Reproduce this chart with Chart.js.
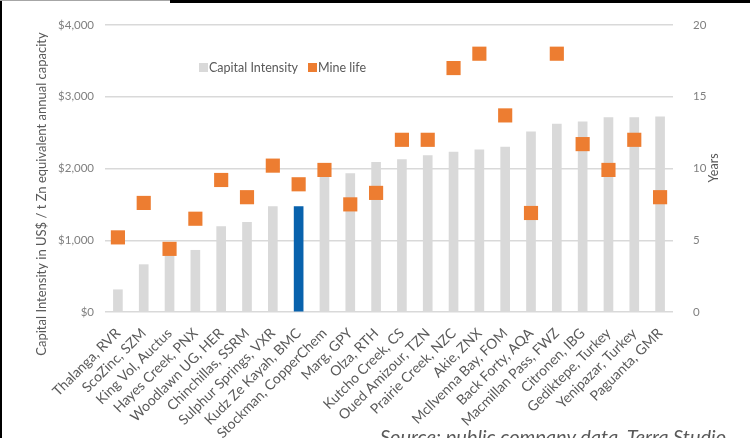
<!DOCTYPE html>
<html><head><meta charset="utf-8">
<script src="https://cdn.jsdelivr.net/npm/chart.js@4/dist/chart.umd.min.js"></script>
<style>
html,body{margin:0;padding:0;background:#fff;overflow:hidden}
#wrap{position:relative;width:750px;height:438px;overflow:hidden;background:#fff}
#c{position:absolute;left:0;top:0}
.topgray{position:absolute;left:0;top:0;width:170px;height:1px;background:#a6a6a6}
.topblack{position:absolute;left:170px;top:0;width:580px;height:3px;background:#000}
.leftblack{position:absolute;left:0;top:1px;width:2px;height:437px;background:#000}
#src{position:absolute;left:380px;top:424px;font:italic 20px Lato, sans-serif;color:#595959;white-space:nowrap}
</style></head>
<body>
<div id="wrap">
<canvas id="c" width="750" height="438"></canvas>
<div class="topgray"></div><div class="topblack"></div><div class="leftblack"></div>
<div id="src">Source: public company data, Terra Studio</div>
</div>
<script>
const categories = ["Thalanga, RVR","ScoZinc, SZM","King Vol, Auctus","Hayes Creek, PNX","Woodlawn UG, HER","Chinchillas, SSRM","Sulphur Springs, VXR","Kudz Ze Kayah, BMC","Stockman, CopperChem","Marg, GPY","Olza, RTH","Kutcho Creek, CS","Oued Amizour, TZN","Prairie Creek, NZC","Akie, ZNX","McIlvenna Bay, FOM","Back Forty, AQA","Macmillan Pass, FWZ","Citronen, IBG","Gediktepe, Turkey","Yenipazar, Turkey","Paguanta, GMR"];
const capitalIntensity = [310,660,800,860,1190,1250,1470,1470,1900,1930,2085,2125,2180,2230,2260,2300,2510,2620,2650,2710,2710,2720];
const mineLife = [5.2,7.6,4.4,6.5,9.2,8.0,10.2,8.9,9.9,7.5,8.3,12.0,12.0,17.0,18.0,13.7,6.9,18.0,11.7,9.9,12.0,8.0];
const highlightIndex = 7;
const leftTicks = {min:0,max:4000,step:1000};
const rightTicks = {min:0,max:20,step:5};
const seriesNames = ["Capital Intensity","Mine life"];
const leftTitle = "Capital Intensity in US$ / t Zn equivalent annual capacity";
const rightTitle = "Years";

const GRAY = '#d9d9d9', BLUE = '#0862ad', ORANGE = '#ed7d31', TXT = '#595959';
Chart.defaults.font.family = 'Lato';

const decor = {
  id:'decor',
  afterDraw(chart){
    const ctx = chart.ctx;
    ctx.save();
    ctx.fillStyle = TXT;
    ctx.font = '13px Lato';
    ctx.textAlign = 'center'; ctx.textBaseline = 'middle';
    ctx.save(); ctx.translate(42,194); ctx.rotate(-Math.PI/2); ctx.fillText(leftTitle,0,0); ctx.restore();
    ctx.font = '12.5px Lato';
    ctx.save(); ctx.translate(714,168); ctx.rotate(-Math.PI/2); ctx.fillText(rightTitle,0,0); ctx.restore();
    // legend
    ctx.font = '12.5px Lato';
    ctx.textAlign = 'left';
    ctx.fillStyle = GRAY; ctx.fillRect(199,63,9,9);
    ctx.fillStyle = TXT; ctx.fillText(seriesNames[0],209,68);
    ctx.fillStyle = ORANGE; ctx.fillRect(308,63,9,9);
    ctx.fillStyle = TXT; ctx.fillText(seriesNames[1],318,68);
    ctx.restore();
  }
};

new Chart(document.getElementById('c'), {
  data:{
    labels:categories,
    datasets:[
      {type:'line', label:seriesNames[1], data:mineLife, yAxisID:'y1', showLine:false,
       pointStyle:'rect', pointRadius:10, pointHoverRadius:10, pointBackgroundColor:ORANGE, pointBorderWidth:0, order:0},
      {type:'bar', label:seriesNames[0], data:capitalIntensity, yAxisID:'y',
       backgroundColor:capitalIntensity.map((v,i)=>i===highlightIndex?BLUE:GRAY), barThickness:9, order:1}
    ]
  },
  options:{
    responsive:false, animation:false,
    layout:{padding:{top:25,left:0,right:0,bottom:0}},
    plugins:{legend:{display:false}, tooltip:{enabled:false}},
    scales:{
      x:{offset:true, grid:{display:false}, border:{display:false},
         ticks:{minRotation:45,maxRotation:45,autoSkip:false,color:TXT,font:{size:14},padding:5},
         afterFit(s){s.height=126;}},
      y:{position:'left', min:leftTicks.min, max:leftTicks.max,
         ticks:{stepSize:leftTicks.step, callback:v=>'$'+v.toLocaleString('en-US'), color:'#7f7f7f', font:{size:11.5}, padding:11},
         grid:{color:GRAY, lineWidth:1.5, drawTicks:false}, border:{display:false},
         afterFit(s){s.width=105;}},
      y1:{position:'right', min:rightTicks.min, max:rightTicks.max,
         ticks:{stepSize:rightTicks.step, color:'#7f7f7f', font:{size:11.5}, padding:12},
         grid:{display:false}, border:{display:false},
         afterFit(s){s.width=77;}}
    }
  },
  plugins:[decor]
});
</script>
</body></html>
